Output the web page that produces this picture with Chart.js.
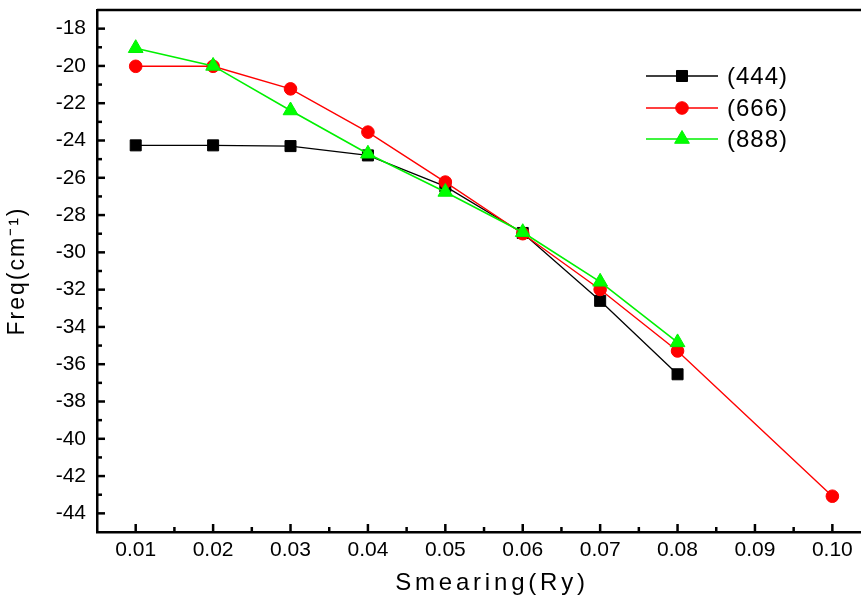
<!DOCTYPE html>
<html>
<head>
<meta charset="utf-8">
<script src="https://cdn.jsdelivr.net/npm/chart.js@4/dist/chart.umd.min.js"></script>
<style>html,body{margin:0;padding:0;background:#fff;}canvas{display:block;}</style>
</head>
<body>
<canvas id="c" width="861" height="599"></canvas>
<script>
// ---- data ----
const smearing = [0.01, 0.02, 0.03, 0.04, 0.05, 0.06, 0.07, 0.08, 0.10];
const freq444 = [-24.26, -24.26, -24.30, -24.80, -26.46, -28.96, -32.60, -36.54];
const freq666 = [-20.02, -20.02, -21.23, -23.55, -26.23, -29.00, -31.99, -35.29, -43.08];
const freq888 = [-19.05, -20.00, -22.39, -24.71, -26.76, -28.92, -31.58, -34.83];
const seriesNames = ['(444)', '(666)', '(888)'];
const xTicks = [0.01, 0.02, 0.03, 0.04, 0.05, 0.06, 0.07, 0.08, 0.09, 0.10];
const xMinorTicks = [0.015, 0.025, 0.035, 0.045, 0.055, 0.065, 0.075, 0.085, 0.095];
const yTicks = [-44, -42, -40, -38, -36, -34, -32, -30, -28, -26, -24, -22, -20, -18];
const yMinorTicks = [-43, -41, -39, -37, -35, -33, -31, -29, -27, -25, -23, -21, -19];

const FONT = "'Liberation Sans', Arial, sans-serif";
const toXY = arr => arr.map((v, i) => ({x: smearing[i], y: v}));

const inTicks = {
  id: 'inTicks',
  beforeDraw(chart) {
    const ctx = chart.ctx;
    ['x', 'y'].forEach(id => {
      const s = chart.scales[id];
      if (s && !s._lsPatched) {
        const orig = s.drawTitle.bind(s);
        s.drawTitle = function () {
          ctx.save();
          if (id === 'x') { ctx.letterSpacing = '3.8px'; ctx.translate(13, 0); }
          else { ctx.letterSpacing = '2px'; }
          orig();
          ctx.restore();
        };
        s._lsPatched = true;
      }
    });
  },
  afterDraw(chart) {
    const {ctx, chartArea: a, scales: {x, y}} = chart;
    ctx.save();
    ctx.strokeStyle = '#000';
    ctx.lineWidth = 2.5;
    ctx.beginPath();
    ctx.moveTo(a.left, a.top);
    ctx.lineTo(a.right, a.top);
    ctx.stroke();
    const seg = (x1, y1, x2, y2) => { ctx.beginPath(); ctx.moveTo(x1, y1); ctx.lineTo(x2, y2); ctx.stroke(); };
    xTicks.forEach(v => { const p = x.getPixelForValue(v); seg(p, a.bottom, p, a.bottom - 8); });
    xMinorTicks.forEach(v => { const p = x.getPixelForValue(v); seg(p, a.bottom, p, a.bottom - 5); });
    yTicks.forEach(v => { const p = y.getPixelForValue(v); seg(a.left, p, a.left + 8, p); });
    yMinorTicks.forEach(v => { const p = y.getPixelForValue(v); seg(a.left, p, a.left + 5, p); });
    ctx.restore();

    // legend
    const rows = [76, 108, 139];
    ctx.save();
    chart.data.datasets.forEach((ds, i) => {
      const ry = rows[i];
      ctx.strokeStyle = ds.borderColor;
      ctx.lineWidth = 1.5;
      seg(646, ry, 718, ry);
      ctx.fillStyle = ds.backgroundColor;
      ctx.beginPath();
      const r = ds.pointRadius;
      if (ds.pointStyle === 'rect') {
        const h = r * Math.SQRT1_2; ctx.rect(682 - h, ry - h, 2 * h, 2 * h);
      } else if (ds.pointStyle === 'circle') {
        ctx.arc(682, ry, r, 0, Math.PI * 2);
      } else {
        ctx.moveTo(682, ry - r);
        ctx.lineTo(682 + r * Math.sin(2 * Math.PI / 3), ry - r * Math.cos(2 * Math.PI / 3));
        ctx.lineTo(682 + r * Math.sin(4 * Math.PI / 3), ry - r * Math.cos(4 * Math.PI / 3));
        ctx.closePath();
      }
      ctx.fill();
      ctx.lineWidth = 1;
      ctx.stroke();
      ctx.fillStyle = '#000';
      ctx.font = "24px " + FONT;
      ctx.letterSpacing = '1px';
      ctx.textBaseline = 'middle';
      ctx.textAlign = 'left';
      ctx.fillText(seriesNames[i], 727, ry + 1);
    });
    ctx.restore();
  }
};

new Chart(document.getElementById('c'), {
  type: 'line',
  data: {
    datasets: [
      {label: seriesNames[0], data: toXY(freq444), borderColor: '#000000', backgroundColor: '#000000',
       borderWidth: 1.3, pointStyle: 'rect', pointRadius: 7.8, pointBorderWidth: 1, order: 3},
      {label: seriesNames[1], data: toXY(freq666), borderColor: '#ff0000', backgroundColor: '#ff0000',
       borderWidth: 1.4, pointStyle: 'circle', pointRadius: 6.3, pointBorderWidth: 1, order: 2},
      {label: seriesNames[2], data: toXY(freq888), borderColor: '#00f000', backgroundColor: '#00ff00',
       borderWidth: 1.6, pointStyle: 'triangle', pointRadius: 8.5, pointBorderWidth: 1, order: 1}
    ]
  },
  options: {
    responsive: false,
    animation: false,
    layout: {autoPadding: false, padding: {top: 10, right: 0, left: 0, bottom: 0}},
    plugins: {legend: {display: false}, tooltip: {enabled: false}},
    elements: {line: {tension: 0}},
    scales: {
      x: {
        type: 'linear', min: 0.005, max: 0.1037,
        afterBuildTicks: s => { s.ticks = xTicks.map(v => ({value: v})); },
        afterFit: s => { s.height = 67; s.paddingLeft = 0; s.paddingRight = 0; },
        grid: {display: false, drawTicks: false},
        border: {display: true, color: '#000', width: 2.5},
        ticks: {color: '#000', font: {family: FONT, size: 21}, padding: 6,
                maxRotation: 0, autoSkip: false, callback: v => v.toFixed(2)},
        title: {display: true, text: 'Smearing(Ry)', color: '#000',
                font: {family: FONT, size: 24}, padding: {top: 0, bottom: 1}}
      },
      y: {
        type: 'linear', min: -45, max: -17,
        afterBuildTicks: s => { s.ticks = yTicks.map(v => ({value: v})); },
        afterFit: s => { s.width = 97; s.paddingTop = 0; s.paddingBottom = 0; },
        grid: {display: false, drawTicks: false},
        border: {display: true, color: '#000', width: 2.5},
        ticks: {color: '#000', font: {family: FONT, size: 21}, padding: 11,
                autoSkip: false, callback: v => String(v)},
        title: {display: true, text: 'Freq(cm\u207B\u00B9)', color: '#000',
                font: {family: FONT, size: 23}, padding: {top: 4, bottom: 0}}
      }
    }
  },
  plugins: [inTicks]
});
</script>
</body>
</html>
